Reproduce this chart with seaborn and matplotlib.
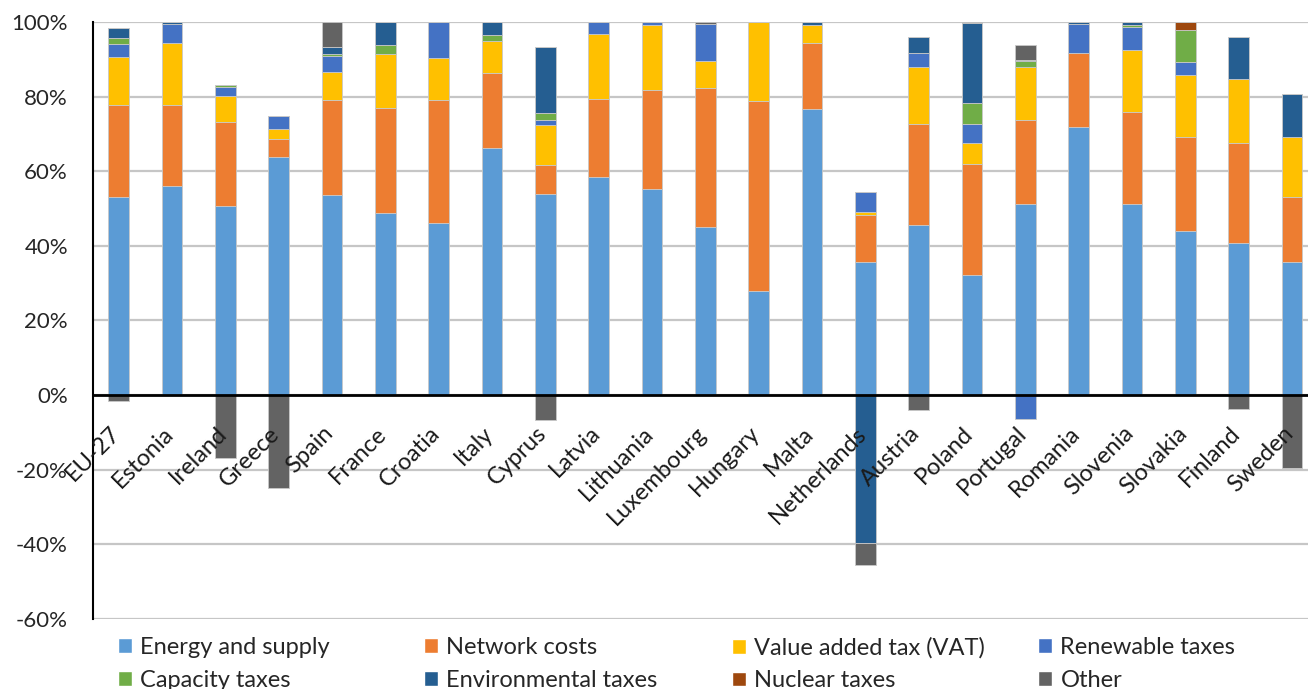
import numpy as np
import matplotlib
matplotlib.use("Agg")
import matplotlib.pyplot as plt
from matplotlib.patches import Patch
from matplotlib.transforms import ScaledTranslation
import seaborn as sns

sns.set_theme(style="white")
plt.rcParams['font.family'] = ['Lato', 'DejaVu Sans']

# shares of the household electricity price, %
categories = ["EU-27", "Estonia", "Ireland", "Greece", "Spain", "France", "Croatia", "Italy",
              "Cyprus", "Latvia", "Lithuania", "Luxembourg", "Hungary", "Malta", "Netherlands",
              "Austria", "Poland", "Portugal", "Romania", "Slovenia", "Slovakia", "Finland", "Sweden"]

energy = [53.2, 56.0, 50.6, 63.7, 53.6, 48.9, 46.0, 66.3, 54.0, 58.4, 55.2, 45.0,
          27.9, 76.7, 35.6, 45.5, 32.2, 51.3, 71.9, 51.3, 44.0, 40.9, 35.6]
network = [24.5, 21.7, 22.7, 4.9, 25.5, 28.1, 33.0, 20.0, 7.7, 21.0, 26.5, 37.3,
           50.8, 17.7, 12.7, 27.2, 29.7, 22.3, 19.8, 24.7, 25.3, 26.7, 17.6]
vat = [12.9, 16.6, 6.9, 2.7, 7.6, 14.3, 11.3, 8.7, 10.6, 17.3, 17.4, 7.3,
       21.3, 4.7, 0.7, 15.3, 5.7, 14.4, 0.0, 16.4, 16.6, 17.0, 16.1]
renewable = [3.4, 5.2, 2.5, 3.6, 4.3, 0.0, 9.7, 0.0, 1.4, 3.3, 0.9, 9.8,
             0.0, 0.0, 5.5, 3.7, 5.1, -6.5, 7.7, 6.3, 3.5, 0.0, 0.0]
capacity = [1.6, 0.0, 0.3, 0.0, 0.4, 2.4, 0.0, 1.4, 1.9, 0.0, 0.0, 0.0,
            0.0, 0.0, 0.0, 0.0, 5.6, 1.5, 0.0, 0.4, 8.5, 0.0, 0.0]
environmental = [2.7, 0.5, 0.0, 0.0, 2.0, 6.3, 0.0, 3.6, 17.8, 0.0, 0.0, 0.0,
                 0.0, 0.9, -39.6, 4.4, 21.3, 0.4, 0.6, 0.9, 0.0, 11.5, 11.3]
nuclear = [0.0, 0.0, 0.0, 0.0, 0.0, 0.0, 0.0, 0.0, 0.0, 0.0, 0.0, 0.0,
           0.0, 0.0, 0.0, 0.0, 0.0, 0.0, 0.0, 0.0, 2.1, 0.0, 0.0]
other = [-1.5, 0.0, -16.8, -24.8, 6.6, 0.0, 0.0, 0.0, -6.8, 0.0, 0.0, 0.6,
         0.0, 0.0, -6.0, -4.1, 0.4, 3.8, 0.0, 0.0, 0.0, -3.8, -19.5]

series = ["Energy and supply", "Network costs", "Value added tax (VAT)", "Renewable taxes",
          "Capacity taxes", "Environmental taxes", "Nuclear taxes", "Other"]
colors = ["#5B9BD5", "#ED7D31", "#FFC000", "#4472C4",
          "#70AD47", "#255E91", "#9E480E", "#636363"]
values = [energy, network, vat, renewable, capacity, environmental, nuclear, other]

fig = plt.figure(figsize=(13.08, 6.89), dpi=100)
ax = fig.add_axes([0.0711, 0.1016, 0.9289, 0.8665])

# stack positives upwards and negatives downwards
pos_base = np.zeros(len(categories))
neg_base = np.zeros(len(categories))
for name, vals, col in zip(series, values, colors):
    vals = np.array(vals, dtype=float)
    base = np.where(vals >= 0, pos_base, neg_base)
    sns.barplot(x=categories, y=vals, bottom=base, color=col, saturation=1, width=0.39,
                errorbar=None, edgecolor="#c8c8c8", linewidth=0.6, ax=ax)
    pos_base += np.clip(vals, 0, None)
    neg_base += np.clip(vals, None, 0)

ax.set_xlim(-0.48, 22.3)
ax.set_ylim(-60, 100)
ax.set_axisbelow(True)
ax.yaxis.grid(True, color="#c6c6c6", linewidth=1.6)

ax.spines['top'].set_visible(False)
ax.spines['right'].set_visible(False)
ax.spines['bottom'].set_position(('data', 0))
ax.spines['bottom'].set_color("black")
ax.spines['bottom'].set_linewidth(2)
ax.spines['bottom'].set_zorder(5)
ax.spines['left'].set_color("black")
ax.spines['left'].set_linewidth(1.5)

yt = list(range(-60, 101, 20))
ax.set_yticks(yt)
ax.set_yticklabels([f"{v}%" for v in yt])
ax.tick_params(axis='y', length=0, pad=18, labelsize=16, labelcolor="#262626")

# country names, rotated, hanging just under the zero line and on top of the bars
ax.set_xticks(range(len(categories)))
ax.set_xticklabels([])
ax.tick_params(axis='x', length=0)
ax.set_xlabel("")
ax.set_ylabel("")
shift = ScaledTranslation(-0.02, -0.35, fig.dpi_scale_trans)
for i, name in enumerate(categories):
    ax.text(i, 0, name, rotation=45, ha='right', va='center', rotation_mode='anchor',
            fontsize=17, color="#1a1a1a", transform=ax.transData + shift, zorder=6)

# legend: four columns, two rows
col_x = [118, 424, 732, 1038]
for c in range(4):
    handles = [Patch(facecolor=colors[c]), Patch(facecolor=colors[c + 4])]
    labels = [series[c], series[c + 4]]
    fig.legend(handles, labels, loc='upper left', bbox_to_anchor=(col_x[c] / 1308, 1 - 637 / 689),
               frameon=False, fontsize=17, handlelength=0.6, handleheight=0.6,
               handletextpad=0.35, labelspacing=0.5, borderpad=0, borderaxespad=0,
               labelcolor="#262626")

fig.savefig("out.png", dpi=100)
